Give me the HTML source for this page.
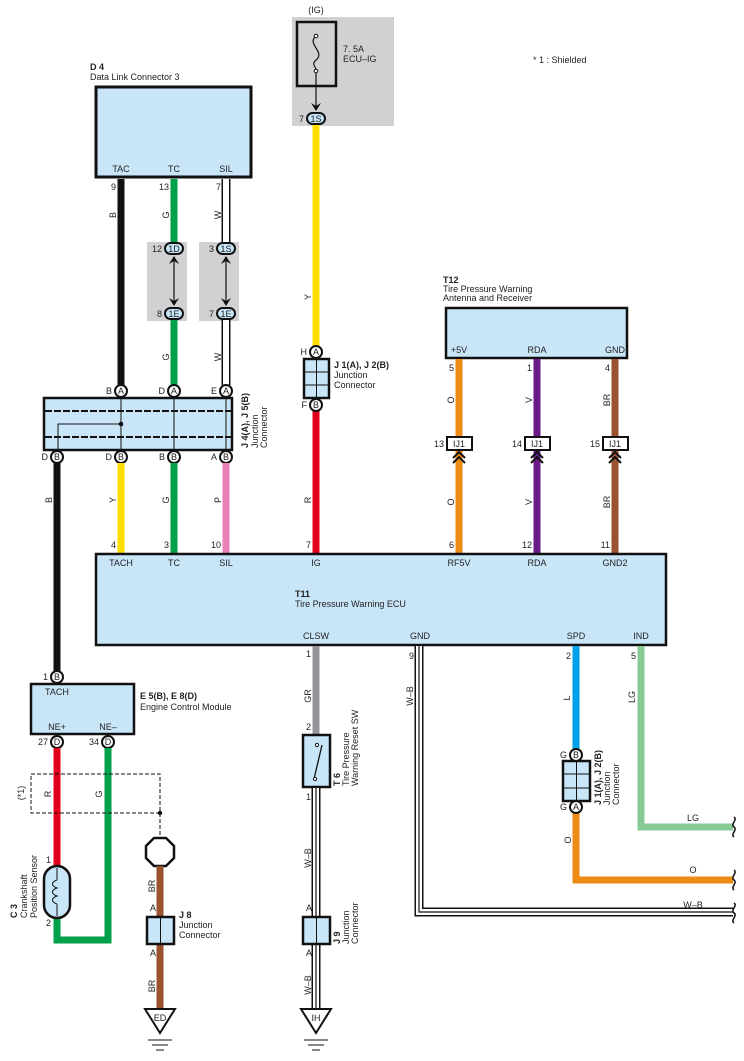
<!DOCTYPE html>
<html><head><meta charset="utf-8"><style>
html,body{margin:0;padding:0;background:#fff}
svg{display:block}
text{font-family:"Liberation Sans",sans-serif;font-size:9px;fill:#222}
.b{font-weight:bold}
</style></head><body>
<svg width="744" height="1061" viewBox="0 0 744 1061" xmlns="http://www.w3.org/2000/svg">
<defs>
<g id="wb"><line x1="0" y1="0" x2="0" y2="1" stroke="#000"/></g>
</defs>
<!-- gray shading -->
<rect x="292" y="17" width="102" height="109" fill="#d1d1d3"/>
<rect x="147" y="242" width="40" height="79" fill="#d1d1d3"/>
<rect x="199" y="242" width="40" height="79" fill="#d1d1d3"/>

<!-- D4 -->
<text x="90" y="70" class="b">D 4</text>
<text x="90" y="80">Data Link Connector 3</text>
<rect x="96" y="87" width="155" height="90" fill="#c9e5f8" stroke="#111" stroke-width="3"/>
<text x="121" y="172" text-anchor="middle">TAC</text>
<text x="174" y="172" text-anchor="middle">TC</text>
<text x="226" y="172" text-anchor="middle">SIL</text>
<text x="116" y="190" text-anchor="end">9</text>
<text x="169" y="190" text-anchor="end">13</text>
<text x="221" y="190" text-anchor="end">7</text>

<!-- wires from D4 -->
<line x1="121" y1="179" x2="121" y2="385" stroke="#111" stroke-width="7"/>
<line x1="174" y1="179" x2="174" y2="242" stroke="#00a14b" stroke-width="7"/>
<line x1="174" y1="318" x2="174" y2="385" stroke="#00a14b" stroke-width="7"/>
<line x1="226" y1="179" x2="226" y2="242" stroke="#111" stroke-width="9"/>
<line x1="226" y1="179" x2="226" y2="242" stroke="#fff" stroke-width="6"/>
<line x1="226" y1="318" x2="226" y2="385" stroke="#111" stroke-width="9"/>
<line x1="226" y1="318" x2="226" y2="385" stroke="#fff" stroke-width="6"/>
<text transform="translate(116,215) rotate(-90)" text-anchor="middle">B</text>
<text transform="translate(169,215) rotate(-90)" text-anchor="middle">G</text>
<text transform="translate(221,215) rotate(-90)" text-anchor="middle">W</text>
<text transform="translate(169,357) rotate(-90)" text-anchor="middle">G</text>
<text transform="translate(221,357) rotate(-90)" text-anchor="middle">W</text>

<!-- 1D/1E connectors -->
<g stroke="#111" stroke-width="1.2">
<line x1="174" y1="257" x2="174" y2="304"/><line x1="226" y1="257" x2="226" y2="304"/>
</g>
<g fill="#111">
<path d="M169,264 L174,256 L179,264 L174,261Z"/><path d="M169,298 L174,306 L179,298 L174,301Z"/>
<path d="M221,264 L226,256 L231,264 L226,261Z"/><path d="M221,298 L226,306 L231,298 L226,301Z"/>
</g>
<g fill="#c9e5f8" stroke="#111" stroke-width="2">
<rect x="165" y="243" width="18" height="11" rx="5.5"/><rect x="165" y="308" width="18" height="11" rx="5.5"/>
<rect x="217" y="243" width="18" height="11" rx="5.5"/><rect x="217" y="308" width="18" height="11" rx="5.5"/>
</g>
<text x="174" y="252" text-anchor="middle" font-size="8">1D</text>
<text x="174" y="317" text-anchor="middle" font-size="8">1E</text>
<text x="226" y="252" text-anchor="middle" font-size="8">1S</text>
<text x="226" y="317" text-anchor="middle" font-size="8">1E</text>
<text x="162" y="252" text-anchor="end">12</text>
<text x="162" y="317" text-anchor="end">8</text>
<text x="214" y="252" text-anchor="end">3</text>
<text x="214" y="317" text-anchor="end">7</text>

<!-- J4/J5 -->
<rect x="44" y="398" width="188" height="52" fill="#c9e5f8" stroke="#111" stroke-width="2.5"/>
<g stroke="#111" stroke-width="2" stroke-dasharray="7,2"><line x1="45" y1="411" x2="231" y2="411"/><line x1="45" y1="437" x2="231" y2="437"/></g>
<g stroke="#111" stroke-width="1"><line x1="121" y1="398" x2="121" y2="450"/><line x1="174" y1="398" x2="174" y2="450"/><line x1="226" y1="398" x2="226" y2="450"/>
<polyline points="121,424 58,424 58,450" fill="none"/></g>
<circle cx="121" cy="424" r="2.3" fill="#111"/>
<g fill="#fff" stroke="#111" stroke-width="2">
<circle cx="121" cy="391" r="6"/><circle cx="174" cy="391" r="6"/><circle cx="226" cy="391" r="6"/>
<circle cx="57" cy="457" r="6"/><circle cx="121" cy="457" r="6"/><circle cx="174" cy="457" r="6"/><circle cx="226" cy="457" r="6"/>
</g>
<g font-size="8" text-anchor="middle">
<text x="121" y="394">A</text><text x="174" y="394">A</text><text x="226" y="394">A</text>
<text x="57" y="460">B</text><text x="121" y="460">B</text><text x="174" y="460">B</text><text x="226" y="460">B</text></g>
<text x="112" y="394" text-anchor="end">B</text><text x="165" y="394" text-anchor="end">D</text><text x="217" y="394" text-anchor="end">E</text>
<text x="48" y="460" text-anchor="end">D</text><text x="112" y="460" text-anchor="end">D</text><text x="165" y="460" text-anchor="end">B</text><text x="217" y="460" text-anchor="end">A</text>
<text transform="translate(248,448) rotate(-90)" class="b">J 4(A), J 5(B)</text>
<text transform="translate(258,448) rotate(-90)">Junction</text>
<text transform="translate(267,448) rotate(-90)">Connector</text>

<!-- wires J4 to T11 -->
<line x1="57" y1="463" x2="57" y2="671" stroke="#111" stroke-width="7"/>
<line x1="121" y1="463" x2="121" y2="553" stroke="#ffdd00" stroke-width="7"/>
<line x1="174" y1="463" x2="174" y2="553" stroke="#00a14b" stroke-width="7"/>
<line x1="226" y1="463" x2="226" y2="553" stroke="#e87fb5" stroke-width="7"/>
<text transform="translate(52,500) rotate(-90)" text-anchor="middle">B</text>
<text transform="translate(116,500) rotate(-90)" text-anchor="middle">Y</text>
<text transform="translate(169,500) rotate(-90)" text-anchor="middle">G</text>
<text transform="translate(221,500) rotate(-90)" text-anchor="middle">P</text>

<!-- IG -->
<text x="316" y="13" text-anchor="middle">(IG)</text>
<rect x="297" y="22" width="39" height="64" fill="none" stroke="#111" stroke-width="2.5"/>
<path d="M316,36 C306,44 326,52 316,60 C310,65 318,68 316,72" fill="none" stroke="#111" stroke-width="1.2"/>
<circle cx="316" cy="36" r="1.8" fill="#fff" stroke="#111"/><circle cx="316" cy="71" r="1.8" fill="#fff" stroke="#111"/>
<line x1="316" y1="73" x2="316" y2="110" stroke="#111" stroke-width="1.2"/>
<path d="M311,103 L316,111 L321,103 L316,106Z" fill="#111"/>
<text x="343" y="52">7. 5A</text><text x="343" y="62">ECU–IG</text>
<line x1="316" y1="125" x2="316" y2="346" stroke="#ffdd00" stroke-width="7"/>
<rect x="307" y="113" width="18" height="11" rx="5.5" fill="#c9e5f8" stroke="#111" stroke-width="2"/>
<text x="316" y="122" text-anchor="middle" font-size="8">1S</text>
<text x="304" y="122" text-anchor="end">7</text>
<text transform="translate(311,297) rotate(-90)" text-anchor="middle">Y</text>
<!-- J1 upper -->
<rect x="304" y="359" width="25" height="39" fill="#c9e5f8" stroke="#111" stroke-width="2.5"/>
<g stroke="#111" stroke-width="1"><line x1="316.5" y1="359" x2="316.5" y2="398"/><line x1="304" y1="372" x2="329" y2="372"/><line x1="304" y1="385" x2="329" y2="385"/></g>
<line x1="316" y1="411" x2="316" y2="553" stroke="#e2001a" stroke-width="7"/>
<g fill="#fff" stroke="#111" stroke-width="2"><circle cx="316" cy="352" r="6"/><circle cx="316" cy="405" r="6"/></g>
<text x="316" y="355" text-anchor="middle" font-size="8">A</text><text x="316" y="408" text-anchor="middle" font-size="8">B</text>
<text x="307" y="355" text-anchor="end">H</text><text x="307" y="408" text-anchor="end">F</text>
<text x="334" y="368" class="b">J 1(A), J 2(B)</text><text x="334" y="378">Junction</text><text x="334" y="388">Connector</text>
<text transform="translate(311,500) rotate(-90)" text-anchor="middle">R</text>

<!-- T12 -->
<text x="443" y="283" class="b">T12</text>
<text x="443" y="292">Tire Pressure Warning</text>
<text x="443" y="301">Antenna and Receiver</text>
<rect x="446" y="308" width="181" height="50" fill="#c9e5f8" stroke="#111" stroke-width="2.5"/>
<text x="459" y="353" text-anchor="middle">+5V</text><text x="537" y="353" text-anchor="middle">RDA</text><text x="615" y="353" text-anchor="middle">GND</text>
<text x="454" y="371" text-anchor="end">5</text><text x="532" y="371" text-anchor="end">1</text><text x="610" y="371" text-anchor="end">4</text>
<line x1="459" y1="359" x2="459" y2="553" stroke="#ec8c12" stroke-width="7"/>
<line x1="537" y1="359" x2="537" y2="553" stroke="#6b1a8a" stroke-width="7"/>
<line x1="615" y1="359" x2="615" y2="553" stroke="#9b522e" stroke-width="7"/>
<g fill="#fff" stroke="#111" stroke-width="2">
<rect x="447" y="437" width="25" height="13"/><rect x="525" y="437" width="25" height="13"/><rect x="603" y="437" width="25" height="13"/></g>
<text x="459" y="447" text-anchor="middle">IJ1</text><text x="537" y="447" text-anchor="middle">IJ1</text><text x="615" y="447" text-anchor="middle">IJ1</text>
<text x="444" y="447" text-anchor="end">13</text><text x="522" y="447" text-anchor="end">14</text><text x="600" y="447" text-anchor="end">15</text>
<g fill="none" stroke="#111" stroke-width="2">
<path d="M453,458 L459,452 L465,458 M453,463 L459,457 L465,463"/>
<path d="M531,458 L537,452 L543,458 M531,463 L537,457 L543,463"/>
<path d="M609,458 L615,452 L621,458 M609,463 L615,457 L621,463"/></g>
<text transform="translate(454,400) rotate(-90)" text-anchor="middle">O</text>
<text transform="translate(532,400) rotate(-90)" text-anchor="middle">V</text>
<text transform="translate(610,400) rotate(-90)" text-anchor="middle">BR</text>
<text transform="translate(454,502) rotate(-90)" text-anchor="middle">O</text>
<text transform="translate(532,502) rotate(-90)" text-anchor="middle">V</text>
<text transform="translate(610,502) rotate(-90)" text-anchor="middle">BR</text>

<!-- T11 -->
<rect x="96" y="554" width="570" height="91" fill="#c9e5f8" stroke="#111" stroke-width="2.5"/>
<g text-anchor="middle"><text x="121" y="566">TACH</text><text x="174" y="566">TC</text><text x="226" y="566">SIL</text><text x="316" y="566">IG</text>
<text x="459" y="566">RF5V</text><text x="537" y="566">RDA</text><text x="615" y="566">GND2</text>
<text x="316" y="639">CLSW</text><text x="420" y="639">GND</text><text x="576" y="639">SPD</text><text x="641" y="639">IND</text></g>
<g text-anchor="end"><text x="116" y="548">4</text><text x="169" y="548">3</text><text x="221" y="548">10</text><text x="311" y="548">7</text>
<text x="454" y="548">6</text><text x="532" y="548">12</text><text x="610" y="548">11</text></g>
<text x="295" y="597" class="b">T11</text>
<text x="295" y="607">Tire Pressure Warning ECU</text>

<!-- ECM -->
<line x1="57" y1="683" x2="57" y2="671" stroke="#111" stroke-width="7"/>
<rect x="31" y="684" width="103" height="50" fill="#c9e5f8" stroke="#111" stroke-width="2.5"/>
<g fill="#fff" stroke="#111" stroke-width="2"><circle cx="57" cy="677" r="6"/><circle cx="57" cy="742" r="6"/><circle cx="108" cy="742" r="6"/></g>
<text x="57" y="680" text-anchor="middle" font-size="8">B</text><text x="57" y="745" text-anchor="middle" font-size="8">D</text><text x="108" y="745" text-anchor="middle" font-size="8">D</text>
<text x="48" y="680" text-anchor="end">1</text><text x="48" y="745" text-anchor="end">27</text><text x="99" y="745" text-anchor="end">34</text>
<text x="45" y="695">TACH</text><text x="57" y="730" text-anchor="middle">NE+</text><text x="108" y="730" text-anchor="middle">NE–</text>
<text x="140" y="699" class="b">E 5(B), E 8(D)</text><text x="140" y="710">Engine Control Module</text>
<line x1="57" y1="748" x2="57" y2="866" stroke="#e2001a" stroke-width="7"/>
<polyline points="108,748 108,940 57,940 57,916" fill="none" stroke="#00a14b" stroke-width="7"/>
<rect x="31" y="774" width="129" height="39" fill="none" stroke="#111" stroke-dasharray="4,2"/>
<line x1="160" y1="813" x2="160" y2="840" stroke="#111" stroke-dasharray="4,2"/>
<circle cx="160" cy="813" r="2.2" fill="#111"/>
<text transform="translate(24,793) rotate(-90)" text-anchor="middle" font-size="8">(*1)</text>
<text transform="translate(51,794) rotate(-90)" text-anchor="middle">R</text>
<text transform="translate(102,794) rotate(-90)" text-anchor="middle">G</text>
<rect x="44" y="866" width="26" height="52" rx="13" fill="#c9e5f8" stroke="#111" stroke-width="2.5"/>
<path d="M57,868 L57,880 M57,904 L57,916 M57,880 c-6,2 -6,6 0,8 c-6,2 -6,6 0,8 c-6,2 -6,6 0,8" fill="none" stroke="#111"/>
<text x="51" y="863" text-anchor="end">1</text><text x="51" y="926" text-anchor="end">2</text>
<text transform="translate(17,918) rotate(-90)" class="b">C 3</text>
<text transform="translate(27,918) rotate(-90)">Crankshaft</text>
<text transform="translate(37,918) rotate(-90)">Position Sensor</text>

<!-- J8 -->
<polygon points="154,838 166,838 174,846 174,858 166,866 154,866 146,858 146,846" fill="#fff" stroke="#111" stroke-width="2.5"/>
<line x1="160" y1="866" x2="160" y2="1010" stroke="#9b522e" stroke-width="7"/>
<rect x="147" y="917" width="27" height="27" fill="#c9e5f8" stroke="#111" stroke-width="2.5"/>
<line x1="160.5" y1="917" x2="160.5" y2="944" stroke="#111"/>
<text x="150" y="911">A</text><text x="150" y="956">A</text>
<text transform="translate(155,886) rotate(-90)" text-anchor="middle">BR</text>
<text transform="translate(155,986) rotate(-90)" text-anchor="middle">BR</text>
<text x="179" y="918" class="b">J 8</text><text x="179" y="928">Junction</text><text x="179" y="938">Connector</text>
<polygon points="145,1009 175,1009 160,1033" fill="#fff" stroke="#111" stroke-width="2"/>
<text x="160" y="1021" text-anchor="middle">ED</text>
<g stroke="#111"><line x1="148" y1="1040" x2="172" y2="1040"/><line x1="152" y1="1045" x2="168" y2="1045"/><line x1="156" y1="1050" x2="164" y2="1050"/></g>

<!-- CLSW / T6 / J9 -->
<line x1="316" y1="646" x2="316" y2="735" stroke="#939598" stroke-width="7"/>
<text x="311" y="657" text-anchor="end">1</text>
<text transform="translate(311,696) rotate(-90)" text-anchor="middle">GR</text>
<text x="311" y="730" text-anchor="end">2</text>
<rect x="303" y="735" width="27" height="52" fill="#c9e5f8" stroke="#111" stroke-width="2.5"/>
<line x1="314" y1="779" x2="322" y2="745" stroke="#111" stroke-width="1.3"/>
<circle cx="317" cy="745" r="1.6" fill="#fff" stroke="#111"/><circle cx="315" cy="779" r="1.6" fill="#fff" stroke="#111"/>
<text transform="translate(340,786) rotate(-90)" class="b">T 6</text>
<text transform="translate(349,786) rotate(-90)">Tire Pressure</text>
<text transform="translate(358,786) rotate(-90)">Warning Reset SW</text>
<line x1="316" y1="788" x2="316" y2="1012" stroke="#111" stroke-width="9"/>
<line x1="316" y1="788" x2="316" y2="1012" stroke="#fff" stroke-width="6"/>
<line x1="316" y1="788" x2="316" y2="1012" stroke="#111" stroke-width="1.2"/>
<text x="311" y="800" text-anchor="end">1</text>
<text transform="translate(311,858) rotate(-90)" text-anchor="middle">W–B</text>
<text transform="translate(311,985) rotate(-90)" text-anchor="middle">W–B</text>
<rect x="303" y="917" width="27" height="27" fill="#c9e5f8" stroke="#111" stroke-width="2.5"/>
<line x1="316.5" y1="917" x2="316.5" y2="944" stroke="#111"/>
<text x="306" y="911">A</text><text x="306" y="956">A</text>
<text transform="translate(340,944) rotate(-90)" class="b">J 9</text>
<text transform="translate(349,944) rotate(-90)">Junction</text>
<text transform="translate(358,944) rotate(-90)">Connector</text>
<polygon points="301,1009 331,1009 316,1033" fill="#fff" stroke="#111" stroke-width="2"/>
<text x="316" y="1021" text-anchor="middle">IH</text>
<g stroke="#111"><line x1="304" y1="1040" x2="328" y2="1040"/><line x1="308" y1="1045" x2="324" y2="1045"/><line x1="312" y1="1050" x2="320" y2="1050"/></g>

<!-- GND W-B -->
<polyline points="419,646 419,912 733,912" fill="none" stroke="#111" stroke-width="9"/>
<polyline points="419,646 419,912 733,912" fill="none" stroke="#fff" stroke-width="6"/>
<polyline points="419,646 419,912 733,912" fill="none" stroke="#111" stroke-width="1.2"/>
<text x="414" y="659" text-anchor="end">9</text>
<text transform="translate(413,696) rotate(-90)" text-anchor="middle">W–B</text>
<text x="693" y="908" text-anchor="middle">W–B</text>

<!-- SPD -->
<line x1="576" y1="646" x2="576" y2="750" stroke="#00a0e9" stroke-width="7"/>
<text x="571" y="659" text-anchor="end">2</text>
<text transform="translate(570,698) rotate(-90)" text-anchor="middle">L</text>
<polyline points="576,812 576,880 733,880" fill="none" stroke="#ec8c12" stroke-width="7"/>
<rect x="563" y="761" width="27" height="40" fill="#c9e5f8" stroke="#111" stroke-width="2.5"/>
<g stroke="#111" stroke-width="1"><line x1="576.5" y1="761" x2="576.5" y2="801"/><line x1="563" y1="774" x2="590" y2="774"/><line x1="563" y1="788" x2="590" y2="788"/></g>
<g fill="#fff" stroke="#111" stroke-width="2"><circle cx="576" cy="755" r="6"/><circle cx="576" cy="807" r="6"/></g>
<text x="576" y="758" text-anchor="middle" font-size="8">B</text><text x="576" y="810" text-anchor="middle" font-size="8">A</text>
<text x="567" y="758" text-anchor="end">G</text><text x="567" y="810" text-anchor="end">G</text>
<text transform="translate(601,805) rotate(-90)" class="b">J 1(A), J 2(B)</text>
<text transform="translate(610,805) rotate(-90)">Junction</text>
<text transform="translate(619,805) rotate(-90)">Connector</text>
<text transform="translate(571,840) rotate(-90)" text-anchor="middle">O</text>
<text x="693" y="873" text-anchor="middle">O</text>

<!-- IND -->
<polyline points="641,646 641,827 733,827" fill="none" stroke="#85c994" stroke-width="7"/>
<text x="636" y="659" text-anchor="end">5</text>
<text transform="translate(635,697) rotate(-90)" text-anchor="middle">LG</text>
<text x="693" y="821" text-anchor="middle">LG</text>

<!-- wave ends -->
<g fill="none" stroke="#111" stroke-width="1.5">
<path d="M734,817 c4,3 -4,7 0,10 c4,3 -4,7 0,10"/>
<path d="M734,870 c4,3 -4,7 0,10 c4,3 -4,7 0,10"/>
<path d="M734,903 c4,3 -4,7 0,10 c4,3 -4,7 0,10"/>
</g>

<text x="533" y="63" font-size="8">* 1 : Shielded</text>
</svg>
</body></html>
